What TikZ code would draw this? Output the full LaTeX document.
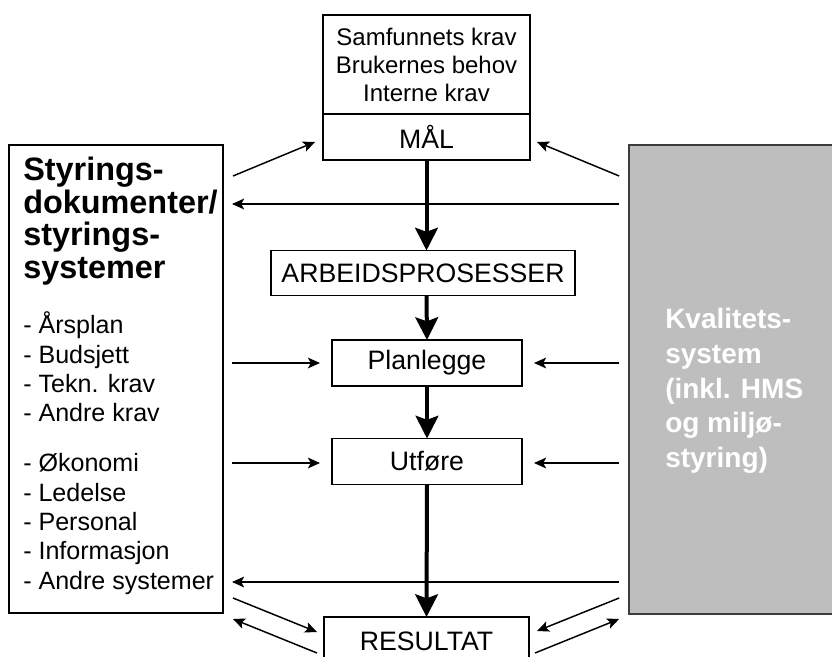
\documentclass[tikz,border=0pt]{standalone}
\usepackage{fontspec}
\setmainfont{Liberation Sans}
\usetikzlibrary{arrows.meta,calc}

\definecolor{qsgray}{HTML}{BEBEBE}
\definecolor{qsedge}{HTML}{3C3C3C}

\begin{document}
\begin{tikzpicture}[x=0.75pt,y=-0.75pt,
  box/.style={draw=black, line width=1.2pt, inner sep=0pt, outer sep=0pt,
    font=\fontsize{20}{23}\selectfont},
  flow/.style={line width=3pt, -{Stealth[length=17pt,width=17pt,inset=3pt]}},
  link/.style={line width=1.1pt, -{Stealth[length=9pt,width=8pt,inset=2pt]}},
  listtext/.style={anchor=west, align=left, inner sep=0pt,
    font=\fontsize{18.8}{22}\selectfont},
]
\useasboundingbox (0,0) rectangle (832,657);
\clip (0,0) rectangle (832,657);

% side panels
\node[box, minimum width=160.5pt, minimum height=351pt] (left) at (116,379) {};
\node[box, draw=qsedge, fill=qsgray, minimum width=173pt, minimum height=351.75pt] (kval) at (744.5,379.5) {};

% text in the left panel
\node[listtext, font=\bfseries\fontsize{24.3}{24.5}\selectfont] (ltitle) at (23,221)
  {Styrings-\\dokumenter/\\styrings-\\systemer};
\node[listtext] (llist1) at (23,367)
  {- Årsplan\\- Budsjett\\- Tekn. krav\\- Andre krav};
\node[listtext] (llist2) at (23,524)
  {- Økonomi\\- Ledelse\\- Personal\\- Informasjon\\- Andre systemer};

% text in the quality-system panel
\node[listtext, text=white, font=\bfseries\fontsize{21}{26}\selectfont] (ktext) at (665,391)
  {Kvalitets-\\system\\(inkl. HMS\\og miljø-\\styring)};

% central column
\node[box, minimum width=155.25pt, minimum height=74.25pt, align=center,
  font=\fontsize{18}{21}\selectfont] (krav) at (426.5,64.5)
  {Samfunnets krav\\Brukernes behov\\Interne krav};
\node[box, anchor=north, minimum width=155.25pt, minimum height=34.5pt] (maal)
  at (krav.south) {MÅL};
\node[box, minimum width=228pt, minimum height=33.75pt] (arb) at (423,273) {ARBEIDSPROSESSER};
\node[box, minimum width=142.5pt, minimum height=34.5pt] (plan) at (427,363) {Planlegge};
\node[box, minimum width=142.5pt, minimum height=34.5pt] (utf) at (427,461.5) {Utføre};
\node[box, anchor=north, minimum width=153.75pt, minimum height=45pt] (res) at (426.5,617) {};
\node[font=\fontsize{20}{23}\selectfont, inner sep=0pt] (restext) at (426.5,641.5) {RESULTAT};

% main flow
\draw[flow] (maal.south) -- (maal.south |- arb.north);
\draw[flow] (maal.south |- arb.south) -- (plan.north);
\draw[flow] (plan.south) -- (utf.north);
\draw[flow] (utf.south) -- (res.north);

% links towards MÅL
\draw[link] ($(left.north east)+(10,31)$) -- ($(maal.west)+(-8,5)$);
\draw[link] ($(kval.north west)+(-10,31)$) -- ($(maal.east)+(7,5)$);
\coordinate (ytop) at (0,204);
\draw[link] (kval.west |- ytop) ++(-10,0) coordinate (t1) -- ($(left.east |- ytop)+(9,0)$);

% links into the work steps
\draw[link, shorten <=6.75pt, shorten >=9pt] (left.east |- plan.west) -- (plan.west);
\draw[link, shorten <=7.5pt, shorten >=9pt] (kval.west |- plan.east) -- (plan.east);
\coordinate (yutf) at (0,463);
\draw[link, shorten <=6.75pt, shorten >=9pt] (left.east |- yutf) -- (utf.west |- yutf);
\draw[link, shorten <=7.5pt, shorten >=9pt] (kval.west |- yutf) -- (utf.east |- yutf);

% feedback around RESULTAT
\coordinate (ybot) at (0,582);
\draw[link, shorten <=7.5pt, shorten >=6.75pt] (kval.west |- ybot) -- (left.east |- ybot);
\draw[link] ($(left.south east)+(10,-15)$) -- ($(res.north west)+(-7,15)$);
\draw[link] ($(res.north west)+(-7,36)$) -- ($(left.south east)+(10,6)$);
\draw[link] ($(kval.south west)+(-10,-16)$) -- ($(res.north east)+(8,14)$);
\draw[link] ($(res.north east)+(6,36)$) -- ($(kval.south west)+(-10,5)$);
\end{tikzpicture}
\end{document}
